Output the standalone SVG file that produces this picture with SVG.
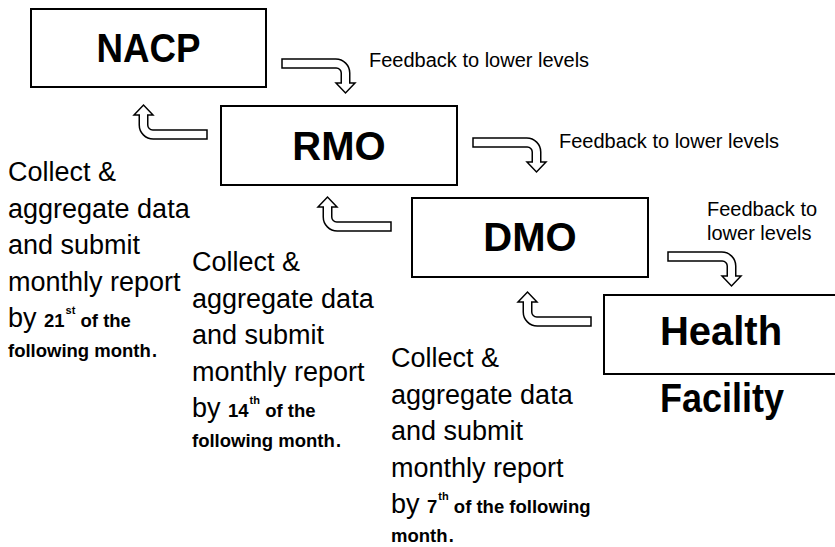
<svg xmlns="http://www.w3.org/2000/svg" xmlns:xlink="http://www.w3.org/1999/xlink" width="835" height="547" viewBox="0 0 835 547">
<style>
.box{fill:#fff;stroke:#000;stroke-width:2}
.lbl{font-family:"Liberation Sans",Arial,sans-serif;font-weight:bold;font-size:40px;fill:#000;text-anchor:middle}
.fb{font-family:"Liberation Sans",Arial,sans-serif;font-size:20px;fill:#000}
.txt{font-family:"Liberation Sans",Arial,sans-serif;font-size:27px;fill:#000}
.b{font-weight:bold;font-size:18.5px}
.sup{font-weight:bold;font-size:11px}
.arr{fill:#fff;stroke:#000;stroke-width:1.5;stroke-linejoin:miter}
</style>
<defs>
<path id="bent" class="arr" d="M0,0 H53.75 A14,14 0 0 1 67.75,14 V24 H73 L63.5,34 L54,24 H59.25 V14 A5,5 0 0 0 54.25,9 H0 Z"/>
</defs>
<rect width="835" height="547" fill="#fff"/>

<g id="nacp">
<rect class="box" x="31" y="9" width="235" height="78"/>
<text class="lbl" x="148.5" y="62" textLength="104" lengthAdjust="spacingAndGlyphs">NACP</text>
</g>
<g id="rmo">
<rect class="box" x="221" y="106" width="236" height="79"/>
<text class="lbl" x="339" y="160">RMO</text>
</g>
<g id="dmo">
<rect class="box" x="412" y="198" width="236" height="79"/>
<text class="lbl" x="530" y="251">DMO</text>
</g>
<g id="health-facility">
<rect class="box" x="604" y="295" width="240" height="79"/>
<text class="lbl" x="721" y="345">Health</text>
<text class="lbl" x="722" y="412" textLength="124" lengthAdjust="spacingAndGlyphs">Facility</text>
</g>

<g id="connectors">
<use xlink:href="#bent" transform="translate(282,59)"/>
<use xlink:href="#bent" transform="translate(473,138)"/>
<use xlink:href="#bent" transform="translate(668,252)"/>
<use xlink:href="#bent" transform="translate(207,139) rotate(180)"/>
<use xlink:href="#bent" transform="translate(391,231) rotate(180)"/>
<use xlink:href="#bent" transform="translate(591,326) rotate(180)"/>
</g>

<g id="feedback-labels">
<text class="fb" x="369" y="67">Feedback to lower levels</text>
<text class="fb" x="559" y="148">Feedback to lower levels</text>
<text class="fb" x="707" y="216">Feedback to</text>
<text class="fb" x="707" y="240">lower levels</text>
</g>

<g id="report-nacp" class="txt">
<text x="8" y="181">Collect &amp;</text>
<text x="8" y="217.5">aggregate data</text>
<text x="8" y="254">and submit</text>
<text x="8" y="290.5">monthly report</text>
<text x="8" y="327">by <tspan class="b">21</tspan><tspan class="sup" dx="1" dy="-13">st</tspan><tspan class="b" dy="13"> of the</tspan></text>
<text x="8" y="357"><tspan class="b">following month</tspan>.</text>
</g>

<g id="report-rmo" class="txt">
<text x="192" y="271">Collect &amp;</text>
<text x="192" y="307.5">aggregate data</text>
<text x="192" y="344">and submit</text>
<text x="192" y="380.5">monthly report</text>
<text x="192" y="417">by <tspan class="b">14</tspan><tspan class="sup" dx="1" dy="-13">th</tspan><tspan class="b" dy="13"> of the</tspan></text>
<text x="192" y="447"><tspan class="b">following month</tspan>.</text>
</g>

<g id="report-dmo" class="txt">
<text x="391" y="367">Collect &amp;</text>
<text x="391" y="403.5">aggregate data</text>
<text x="391" y="440">and submit</text>
<text x="391" y="476.5">monthly report</text>
<text x="391" y="513">by <tspan class="b">7</tspan><tspan class="sup" dx="1" dy="-13">th</tspan><tspan class="b" dy="13"> of the following</tspan></text>
<text x="391" y="542"><tspan class="b">month</tspan>.</text>
</g>
</svg>
